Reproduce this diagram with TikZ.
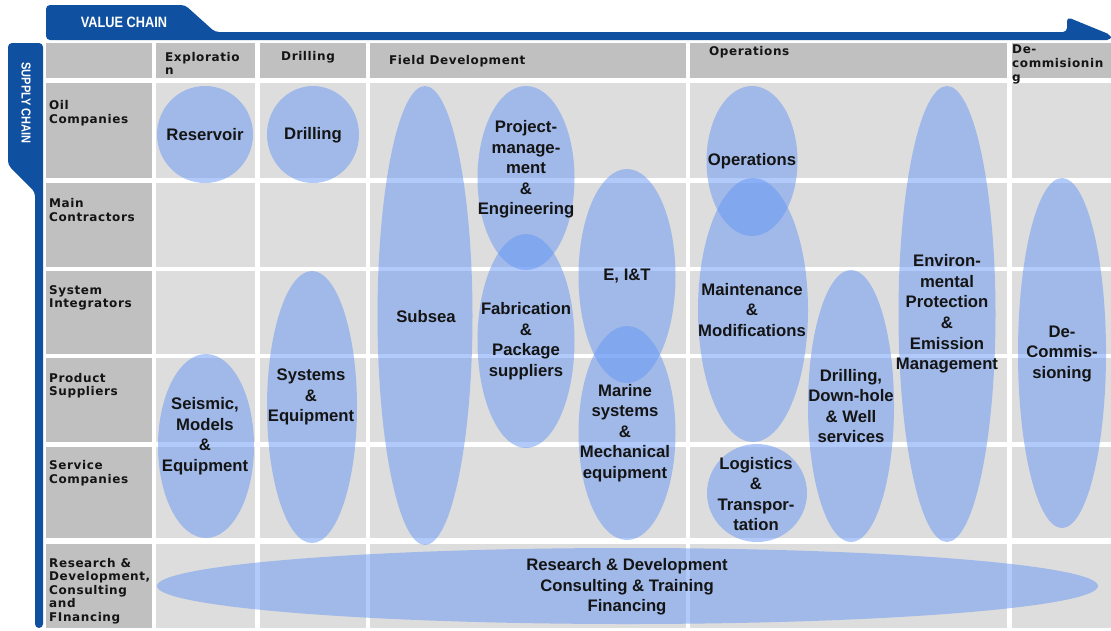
\documentclass[tikz,border=0pt]{standalone}
\usepackage{fontspec}
\setmainfont{Liberation Sans}
\newfontfamily\lblfont[LetterSpace=5]{DejaVu Sans}
\newfontfamily\tabfont[FakeStretch=0.85]{Liberation Sans}
\usetikzlibrary{shapes.geometric}
\definecolor{tabblue}{RGB}{16,80,160}
\definecolor{hdrgray}{RGB}{192,192,192}
\definecolor{cellgray}{RGB}{221,221,221}
\definecolor{blobc}{RGB}{100,150,245}
\definecolor{ink}{RGB}{20,20,20}
\tikzset{
  hdrcell/.style={fill=hdrgray},
  bodycell/.style={fill=cellgray},
  blob/.style={ellipse, fill=blobc, fill opacity=0.5, draw=none, inner sep=0pt},
  btxt/.style={font=\fontsize{16.7}{20.6}\selectfont\bfseries, align=center, text=ink, inner sep=0pt},
  ltxt/.style={font=\lblfont\bfseries\fontsize{12}{13.6}\selectfont, align=left, text=ink, anchor=west, inner sep=0pt},
  tabtxt/.style={font=\tabfont\bfseries\fontsize{15}{15}\selectfont, text=white, inner sep=0pt},
}
\begin{document}
\begin{tikzpicture}[x=1pt,y=-1pt]
\useasboundingbox (0,0) rectangle (1111,630);
\fill[white] (0,0) rectangle (1111,630);
% ---- grid cells
\def\rowsY{43/78,83/178,183/267,271/354,358/442,447/538,544/628}
\foreach \ya/\yb [count=\r] in \rowsY {
  \fill[hdrgray] (46,\ya) rectangle (152,\yb);
  \ifnum\r=1
    \foreach \xa/\xb in {156/255,260/366,370/686,690/1007,1012/1111}
      \fill[hdrgray] (\xa,\ya) rectangle (\xb,\yb);
  \else
    \foreach \xa/\xb in {156/255,260/366,370/686,690/1007,1012/1111}
      \fill[cellgray] (\xa,\ya) rectangle (\xb,\yb);
  \fi
}
% ---- tabs
\fill[tabblue, rounded corners=4pt] (46,40) -- (46,5) -- (185,5) -- (215,32) -- (1067,32) -- (1067,17) -- (1111,35) -- (1111,40) -- cycle;
\node[tabtxt] (vc) at (124,22.5) {VALUE CHAIN};
\fill[tabblue, rounded corners=4pt] (35,628) -- (35,192) -- (8,165) -- (8,43) -- (43,43) -- (43,628) -- cycle;
\node[tabtxt, font=\tabfont\bfseries\fontsize{13}{13}\selectfont, rotate=-90] (sc) at (26,103) {SUPPLY CHAIN};
% ---- header labels
\node[ltxt] (hExp) at (165,63.5) {Exploratio\\n};
\node[ltxt] (hDri) at (281,57.5) {Drilling};
\node[ltxt] (hFld) at (389,61) {Field Development};
\node[ltxt] (hOps) at (709,52) {Operations};
\node[ltxt] (hDec) at (1012,64.5) {De-\\commisionin\\g};
% ---- row labels
\node[ltxt] (rOil) at (49,113) {Oil\\Companies};
\node[ltxt] (rMC) at (49,210) {Main\\Contractors};
\node[ltxt] (rSI) at (49,298) {System\\Integrators};
\node[ltxt] (rPS) at (49,385.5) {Product\\Suppliers};
\node[ltxt] (rSC) at (49,473) {Service\\Companies};
\node[ltxt] (rRD) at (49,591) {Research \&\\Development,\\Consulting\\and\\FInancing};
% ---- ellipses
\node[blob, minimum width=96pt, minimum height=97pt] (res) at (205,134.5) {};
\node[blob, minimum width=92pt, minimum height=97pt] (dri) at (313,134.5) {};
\node[blob, minimum width=95pt, minimum height=459pt] (sub) at (425,315.5) {};
\node[blob, minimum width=97pt, minimum height=184pt] (pm) at (526,178) {};
\node[blob, minimum width=97pt, minimum height=214pt] (fab) at (526,341) {};
\node[blob, minimum width=97pt, minimum height=214pt] (eit) at (627,276) {};
\node[blob, minimum width=97pt, minimum height=214pt] (mar) at (627,433) {};
\node[blob, minimum width=91pt, minimum height=150pt] (ops) at (752,161) {};
\node[blob, minimum width=110pt, minimum height=264pt] (mm) at (753,310) {};
\node[blob, minimum width=100pt, minimum height=98pt] (log) at (757,493) {};
\node[blob, minimum width=86pt, minimum height=272pt] (ddw) at (851,406) {};
\node[blob, minimum width=97pt, minimum height=456pt] (env) at (947,314) {};
\node[blob, minimum width=88pt, minimum height=350pt] (dec) at (1062,353) {};
\node[blob, minimum width=96pt, minimum height=184pt] (sei) at (206,446) {};
\node[blob, minimum width=90pt, minimum height=272pt] (sys) at (312,407) {};
\node[blob, minimum width=941pt, minimum height=76pt] (rd) at (627.5,586) {};
% ---- ellipse texts
\node[btxt] (tres) at (205,135) {Reservoir};
\node[btxt] (tdri) at (313,135) {Drilling};
\node[btxt] (tsub) at (426,317) {Subsea};
\node[btxt] (tpm) at (526,169.5) {Project-\\manage-\\ment\\\&\\Engineering};
\node[btxt] (tfab) at (526,341) {Fabrication\\\&\\Package\\suppliers};
\node[btxt] (teit) at (627,276) {E, I\&T};
\node[btxt] (tmar) at (625,433) {Marine\\systems\\\&\\Mechanical\\equipment};
\node[btxt] (tops) at (752,161) {Operations};
\node[btxt] (tmm) at (752,310) {Maintenance\\\&\\Modifications};
\node[btxt] (tlog) at (756,494) {Logistics\\\&\\Transpor-\\tation};
\node[btxt] (tddw) at (851,406) {Drilling,\\Down-hole\\\& Well\\services};
\node[btxt] (tenv) at (947,314) {Environ-\\mental\\Protection\\\&\\Emission\\Management};
\node[btxt] (tdec) at (1062,354) {De-\\Commis-\\sioning};
\node[btxt] (tsei) at (205,436) {Seismic,\\Models\\\&\\Equipment};
\node[btxt] (tsys) at (311,397) {Systems\\\&\\Equipment};
\node[btxt] (trd) at (627,587) {Research \& Development\\Consulting \& Training\\Financing};
\end{tikzpicture}
\end{document}
